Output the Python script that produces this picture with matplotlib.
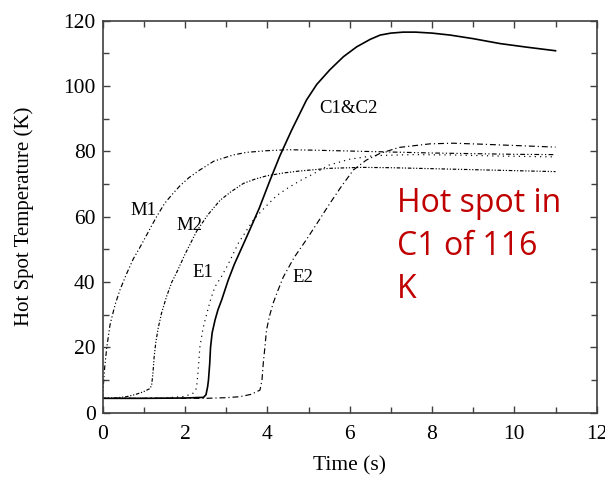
import matplotlib
matplotlib.use("Agg")
import matplotlib.pyplot as plt

# ---- data ----
m1_t = [0, 0.02, 0.05, 0.1, 0.18, 0.3, 0.42, 0.58, 0.74, 0.9, 1.03, 1.2, 1.31, 1.5, 1.7, 1.88,
        2.1, 2.36, 2.7, 3.17, 3.5, 3.98, 4.5, 5, 6, 7, 8, 9, 10, 11]
m1_T = [4.4, 9, 14, 20, 27, 33, 37.6, 42.5, 47, 50.5, 53.5, 57.5, 60, 64, 67, 69.5,
        72, 74.3, 77, 78.9, 79.7, 80.2, 80.5, 80.4, 80.1, 79.8, 79.5, 79.3, 79.1, 79.0]

m2_t = [0, 0.3, 0.58, 0.8, 0.99, 1.15, 1.19, 1.22, 1.25, 1.29, 1.35, 1.43, 1.55, 1.68, 1.8,
        2.0, 2.28, 2.55, 2.85, 3.1, 3.42, 3.7, 3.98, 4.4, 4.79, 5.5, 6.3, 7, 8, 9, 10, 11]
m2_T = [4.4, 4.5, 4.9, 5.6, 6.4, 7.4, 8.5, 12, 17, 21.5, 26, 30.5, 35.5, 40, 43,
        48.5, 55.5, 60.5, 65, 67.5, 70.2, 71.5, 72.5, 73.4, 74, 74.8, 75.1, 75.0, 74.7, 74.4, 74.1, 73.8]

e1_t = [0, 1.5, 2.0, 2.2, 2.28, 2.32, 2.36, 2.44, 2.53, 2.63, 2.73, 2.9, 3.05, 3.3, 3.66,
        3.95, 4.23, 4.5, 4.79, 5.1, 5.5, 6.0, 6.6, 7.5, 8.5, 9.5, 11]
e1_T = [4.4, 4.5, 5.0, 6.0, 7.5, 13, 20, 26, 30.4, 35, 38.6, 42, 45.5, 52, 59,
        63, 66.5, 68.8, 71, 73, 75.8, 77.6, 78.7, 79.0, 78.9, 78.6, 78.3]

c_t = [0, 1, 2, 2.45, 2.51, 2.55, 2.57, 2.6, 2.62, 2.66, 2.73, 2.8, 2.89, 3.05, 3.2, 3.5,
       3.8, 4.06, 4.3, 4.59, 4.95, 5.2, 5.52, 5.85, 6.17, 6.5, 6.74, 7.0, 7.3, 7.6, 8.0,
       8.44, 9.0, 9.65, 10.3, 11]
c_T = [4.4, 4.4, 4.5, 4.7, 5.5, 8, 10, 15, 20, 24.5, 28.4, 31.5, 34.5, 40.6, 45.5, 53.9,
       62.5, 71, 78.5, 86.5, 95.7, 100.5, 105, 109, 112, 114.3, 115.6, 116.2, 116.5, 116.5, 116.2,
       115.6, 114.5, 113, 111.9, 110.8]

e2_t = [0, 2.5, 3.0, 3.33, 3.6, 3.82, 3.87, 3.9, 3.94, 3.98, 4.05, 4.14, 4.25, 4.39, 4.65,
        4.95, 5.25, 5.52, 5.8, 6.09, 6.4, 6.74, 7.2, 7.95, 8.5, 9.2, 10, 11]
e2_T = [4.4, 4.4, 4.6, 4.9, 5.6, 6.9, 10, 15, 20, 25.3, 29.5, 33.5, 37.2, 41.6, 47.5,
        53, 58.8, 64.1, 69.3, 74.3, 77.3, 79.4, 81.2, 82.3, 82.5, 82.2, 81.8, 81.3]

curve_labels = ["M1", "M2", "E1", "E2", "C1&C2"]
label_pos = [(0.98, 62), (2.12, 57.3), (2.43, 42.8), (4.87, 41.5), (5.96, 93)]
note_lines = ["Hot spot in", "C1 of 116", "K"]

x_ticks = [0, 2, 4, 6, 8, 10, 12]
y_ticks = [0, 20, 40, 60, 80, 100, 120]

# ---- figure ----
serif = "Liberation Serif"
fig = plt.figure(figsize=(6.05, 4.78), dpi=100)
ax = fig.add_axes([0.1697, 0.1366, 0.8166, 0.8201])

lw = 0.85
ax.plot(m1_t, m1_T, color="black", lw=lw, linestyle=(0, (4, 2, 1, 2, 1, 2)))
ax.plot(m2_t, m2_T, color="black", lw=lw, linestyle=(0, (3, 1.5, 1, 1.5, 1, 1.5)))
ax.plot(e1_t, e1_T, color="black", lw=lw, linestyle=(0, (1, 3.5)))
ax.plot(e2_t, e2_T, color="black", lw=lw, linestyle=(0, (5, 2.5, 1, 2.5)))
ax.plot(c_t, c_T, color="black", lw=1.2, linestyle="-")

for lab, (x, y) in zip(curve_labels, label_pos):
    ax.text(x, y, lab, ha="center", va="center", fontsize=13.5, family=serif)

# red note
note_y = [61.5, 48.2, 35.0]
for line, y in zip(note_lines, note_y):
    ax.text(7.14, y, line, ha="left", va="baseline", fontsize=23,
            family="Open Sans", color="#C00000")

ax.set_xlim(0, 12)
ax.set_ylim(0, 120)
ax.set_xticks(x_ticks)
ax.set_yticks(y_ticks)
ax.set_xticks([1, 3, 5, 7, 9, 11], minor=True)
ax.set_yticks([10, 30, 50, 70, 90, 110], minor=True)
ax.tick_params(which="both", direction="in", top=True, right=True, color="#404040", width=1.0)
ax.tick_params(which="major", length=5)
ax.tick_params(which="minor", length=4)
ax.tick_params(axis="x", which="major", pad=9)
ax.tick_params(axis="y", which="major", pad=5)
for t in ax.get_xticklabels() + ax.get_yticklabels():
    t.set_fontfamily(serif)
    t.set_fontsize(15.5)
for s in ax.spines.values():
    s.set_color("#404040")
    s.set_linewidth(1.2)

ax.set_xlabel("Time (s)", fontsize=15.5, family=serif, labelpad=9)
ax.set_ylabel("Hot Spot Temperature (K)", fontsize=15, family=serif, labelpad=21)

fig.savefig("out.png", dpi=100)
